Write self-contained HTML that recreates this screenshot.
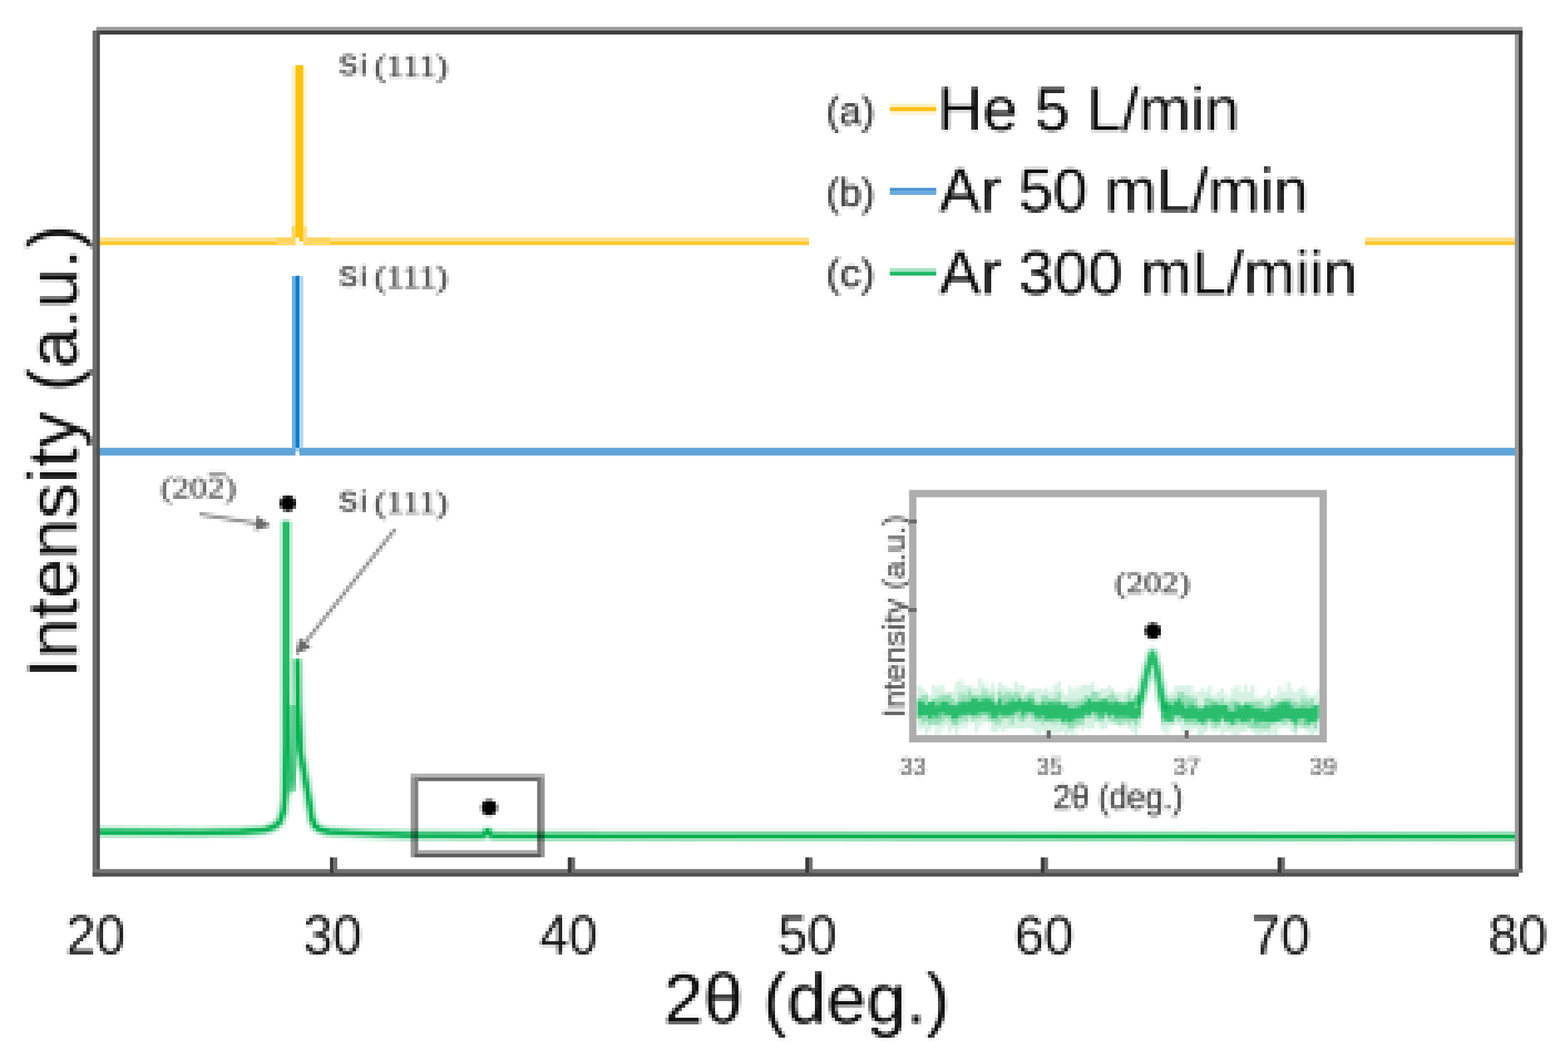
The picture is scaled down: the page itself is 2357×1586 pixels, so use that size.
<!DOCTYPE html>
<html lang="en"><head><meta charset="utf-8"><title>XRD patterns</title>
<style>
html,body{margin:0;padding:0;background:#fff;}
body{width:2357px;height:1586px;overflow:hidden;}
svg{display:block;}
text{white-space:pre;}
</style></head>
<body>
<svg width="2357" height="1586" viewBox="0 0 2357 1586">
<defs>
<filter id="px" x="0" y="0" width="2357" height="1586" filterUnits="userSpaceOnUse" primitiveUnits="userSpaceOnUse" color-interpolation-filters="sRGB">
<feGaussianBlur in="SourceGraphic" stdDeviation="1.5" result="b"/>
<feFlood x="2" y="2" width="1" height="1" flood-color="#000" flood-opacity="1" result="f"/>
<feComposite in="f" in2="f" operator="over" x="0" y="0" width="5" height="5" result="t"/>
<feTile in="t" x="0" y="0" width="2357" height="1586" result="grid"/>
<feComposite in="b" in2="grid" operator="in" result="s"/>
<feMorphology in="s" operator="dilate" radius="2" result="d"/>
<feMerge><feMergeNode in="b"/><feMergeNode in="d"/></feMerge>
</filter>
<filter id="soft" x="0" y="0" width="2357" height="1586" filterUnits="userSpaceOnUse" color-interpolation-filters="sRGB"><feGaussianBlur stdDeviation="0.6"/></filter>
</defs>
<rect width="2357" height="1586" fill="#ffffff"/>
<g id="chart" filter="url(#soft)">
<g id="ink" filter="url(#px)">
<rect width="2357" height="1586" fill="#ffffff"/>
<path d="M141.0,1250.5 L300.0,1251.5 L360.0,1250.5 L397.0,1248.0 L412.0,1243.0 L421.0,1235.0 L426.0,1220.0 L428.5,1198.0 L430.0,1120.0 L430.0,783.0" fill="none" stroke="#00b050" stroke-width="17" stroke-linejoin="bevel" opacity="0.3"/>
<path d="M447.0,991.0 L448.0,1060.0 L451.5,1129.0 L456.0,1155.0 L460.0,1178.0 L463.7,1198.0 L466.5,1216.0 L469.0,1231.0 L473.5,1242.0 L482.0,1247.5 L495.0,1250.5 L560.0,1253.5 L620.0,1255.5 L700.0,1256.0 L725.0,1256.0 L729.5,1254.0 L732.7,1246.5 L736.0,1254.0 L741.0,1256.5 L900.0,1256.8 L1400.0,1257.2 L2284.0,1257.8" fill="none" stroke="#00b050" stroke-width="17" stroke-linejoin="bevel" opacity="0.3"/>
<path d="M430,1060 L447,1060 L447,1125 L441,1192 L430,1192 Z" fill="#00b050" opacity="0.45"/>
<path d="M430.0,783.0 L431.0,1000.0 L434.0,1100.0 L438.0,1170.0 L441.0,1190.0 L444.0,1150.0 L446.5,1060.0 L447.0,991.0" fill="none" stroke="#00b050" stroke-width="4" stroke-linejoin="bevel" opacity="0.7"/>
<path d="M141.0,1250.5 L300.0,1251.5 L360.0,1250.5 L397.0,1248.0 L412.0,1243.0 L421.0,1235.0 L426.0,1220.0 L428.5,1198.0 L430.0,1120.0 L430.0,783.0" fill="none" stroke="#00b050" stroke-width="7.5" stroke-linejoin="bevel"/>
<path d="M447.0,991.0 L448.0,1060.0 L451.5,1129.0 L456.0,1155.0 L460.0,1178.0 L463.7,1198.0 L466.5,1216.0 L469.0,1231.0 L473.5,1242.0 L482.0,1247.5 L495.0,1250.5 L560.0,1253.5 L620.0,1255.5 L700.0,1256.0 L725.0,1256.0 L729.5,1254.0 L732.7,1246.5 L736.0,1254.0 L741.0,1256.5 L900.0,1256.8 L1400.0,1257.2 L2284.0,1257.8" fill="none" stroke="#00b050" stroke-width="7.5" stroke-linejoin="bevel"/>
<circle cx="735.4" cy="1214.2" r="12" fill="#000"/>
<text transform="translate(103.2,1433.8) scale(0.9716,1)" x="-4.15" y="0" font-family='"Liberation Sans", Arial, sans-serif' font-size="82.5" fill="#161616">20</text>
<text transform="translate(459.0,1433.8) scale(0.9602,1)" x="-3.14" y="0" font-family='"Liberation Sans", Arial, sans-serif' font-size="82.5" fill="#161616">30</text>
<text transform="translate(813.0,1433.8) scale(0.9463,1)" x="-1.89" y="0" font-family='"Liberation Sans", Arial, sans-serif' font-size="82.5" fill="#161616">40</text>
<text transform="translate(1172.7,1433.8) scale(0.9620,1)" x="-3.30" y="0" font-family='"Liberation Sans", Arial, sans-serif' font-size="82.5" fill="#161616">50</text>
<text transform="translate(1529.0,1433.8) scale(0.9721,1)" x="-4.19" y="0" font-family='"Liberation Sans", Arial, sans-serif' font-size="82.5" fill="#161616">60</text>
<text transform="translate(1884.5,1433.8) scale(0.9726,1)" x="-4.23" y="0" font-family='"Liberation Sans", Arial, sans-serif' font-size="82.5" fill="#161616">70</text>
<text transform="translate(2241.0,1433.8) scale(0.9652,1)" x="-3.59" y="0" font-family='"Liberation Sans", Arial, sans-serif' font-size="82.5" fill="#161616">80</text>
<text transform="translate(1002.8,1537.5) scale(1.0149,1)" x="-5.33" y="0" font-family='"Liberation Sans", Arial, sans-serif' font-size="106" fill="#0d0d0d">2θ (deg.)</text>
<text transform="translate(115.8,1009.5) rotate(-90) scale(1.0241,1)" x="-9.69" y="0" font-family='"Liberation Sans", Arial, sans-serif' font-size="105" fill="#0d0d0d">Intensity (a.u.)</text>
<text transform="translate(1245.5,186.8) scale(1.0017,1)" x="-3.72" y="0" font-family='"Liberation Sans", Arial, sans-serif' font-size="60" fill="#3c3c3c" stroke="#3c3c3c" stroke-width="0.8" stroke-linejoin="round">(a)</text>
<text transform="translate(1417.5,196.3) scale(1.0082,1)" x="-7.63" y="0" font-family='"Liberation Sans", Arial, sans-serif' font-size="93" fill="#0a0a0a">He 5 L/min</text>
<text transform="translate(1245.5,309.6) scale(1.0017,1)" x="-3.72" y="0" font-family='"Liberation Sans", Arial, sans-serif' font-size="60" fill="#3c3c3c" stroke="#3c3c3c" stroke-width="0.8" stroke-linejoin="round">(b)</text>
<text transform="translate(1412.2,317.9) scale(1.0031,1)" x="-0.18" y="0" font-family='"Liberation Sans", Arial, sans-serif' font-size="93" fill="#0a0a0a">Ar 50 mL/min</text>
<text transform="translate(1245.5,431.4) scale(1.0557,1)" x="-3.72" y="0" font-family='"Liberation Sans", Arial, sans-serif' font-size="60" fill="#3c3c3c" stroke="#3c3c3c" stroke-width="0.8" stroke-linejoin="round">(c)</text>
<text transform="translate(1412.2,441.6) scale(1.0054,1)" x="-0.18" y="0" font-family='"Liberation Sans", Arial, sans-serif' font-size="93" fill="#0a0a0a">Ar 300 mL/miin</text>
<text transform="translate(510.9,112.6) scale(0.9777,1)" x="-2.04" y="0" font-family='"Liberation Sans", Arial, sans-serif' font-size="45" fill="#585858" font-weight="bold" letter-spacing="2.5">Si</text>
<text transform="translate(565.0,114.6) scale(1.1262,1)" x="-2.07" y="0" font-family='"Liberation Serif", "Times New Roman", serif' font-size="47" fill="#555555" stroke="#555555" stroke-width="1.4" stroke-linejoin="round">(111)</text>
<text transform="translate(510.9,431.2) scale(0.9777,1)" x="-2.04" y="0" font-family='"Liberation Sans", Arial, sans-serif' font-size="45" fill="#585858" font-weight="bold" letter-spacing="2.5">Si</text>
<text transform="translate(565.0,431.7) scale(1.1262,1)" x="-2.07" y="0" font-family='"Liberation Serif", "Times New Roman", serif' font-size="47" fill="#555555" stroke="#555555" stroke-width="1.4" stroke-linejoin="round">(111)</text>
<text transform="translate(510.9,769.0) scale(0.9777,1)" x="-2.04" y="0" font-family='"Liberation Sans", Arial, sans-serif' font-size="45" fill="#585858" font-weight="bold" letter-spacing="2.5">Si</text>
<text transform="translate(565.0,770.5) scale(1.1262,1)" x="-2.07" y="0" font-family='"Liberation Serif", "Times New Roman", serif' font-size="47" fill="#555555" stroke="#555555" stroke-width="1.4" stroke-linejoin="round">(111)</text>
<text transform="translate(243.5,747.6) scale(1.1709,1)" x="-1.98" y="0" font-family='"Liberation Serif", "Times New Roman", serif' font-size="45" fill="#666666" stroke="#666666" stroke-width="1.3" stroke-linejoin="round">(202)</text>
<rect x="313.5" y="709.5" width="25.5" height="6.5" fill="#9c9c9c"/>
<defs><marker id="ah" viewBox="0 0 10 10" refX="9" refY="5" markerWidth="4.6" markerHeight="4.6" orient="auto-start-reverse"><path d="M0,0 L10,5 L0,10 z" fill="#6a6a6a"/></marker></defs>
<line x1="300" y1="773" x2="405" y2="790" stroke="#8a8a8a" stroke-width="5" marker-end="url(#ah)"/>
<line x1="594" y1="795.5" x2="446" y2="982" stroke="#8a8a8a" stroke-width="5" marker-end="url(#ah)"/>
<circle cx="432.7" cy="756.8" r="12" fill="#000"/>
<path d="M1377.5,1029.3 L1383.3,1029.3 L1383.3,1033.7 L1389.2,1033.7 L1389.2,1043.2 L1395.0,1043.2 L1395.0,1045.7 L1400.9,1045.7 L1400.9,1029.3 L1406.7,1029.3 L1406.7,1032.7 L1412.6,1032.7 L1412.6,1028.5 L1418.4,1028.5 L1418.4,1038.7 L1424.3,1038.7 L1424.3,1041.5 L1430.1,1041.5 L1430.1,1038.6 L1436.0,1038.6 L1436.0,1026.5 L1441.8,1026.5 L1441.8,1021.9 L1447.7,1021.9 L1447.7,1031.5 L1453.5,1031.5 L1453.5,1029.9 L1459.4,1029.9 L1459.4,1032.7 L1465.2,1032.7 L1465.2,1034.3 L1471.1,1034.3 L1471.1,1018.9 L1476.9,1018.9 L1476.9,1027.5 L1482.8,1027.5 L1482.8,1035.9 L1488.6,1035.9 L1488.6,1027.3 L1494.5,1027.3 L1494.5,1037.7 L1500.3,1037.7 L1500.3,1025.8 L1506.2,1025.8 L1506.2,1031.0 L1512.0,1031.0 L1512.0,1033.6 L1517.9,1033.6 L1517.9,1037.1 L1523.7,1037.1 L1523.7,1024.5 L1529.6,1024.5 L1529.6,1031.4 L1535.4,1031.4 L1535.4,1029.7 L1541.3,1029.7 L1541.3,1040.5 L1547.1,1040.5 L1547.1,1034.6 L1553.0,1034.6 L1553.0,1035.9 L1558.8,1035.9 L1558.8,1034.6 L1564.7,1034.6 L1564.7,1037.5 L1570.5,1037.5 L1570.5,1033.2 L1576.4,1033.2 L1576.4,1039.8 L1582.2,1039.8 L1582.2,1029.8 L1588.1,1029.8 L1588.1,1024.2 L1593.9,1024.2 L1593.9,1037.2 L1599.8,1037.2 L1599.8,1044.6 L1605.6,1044.6 L1605.6,1031.7 L1611.5,1031.7 L1611.5,1037.5 L1617.3,1037.5 L1617.3,1032.6 L1623.2,1032.6 L1623.2,1029.6 L1629.0,1029.6 L1629.0,1029.3 L1634.9,1029.3 L1634.9,1028.4 L1640.7,1028.4 L1640.7,1026.5 L1646.6,1026.5 L1646.6,1039.6 L1652.4,1039.6 L1652.4,1034.4 L1658.3,1034.4 L1658.3,1035.9 L1664.1,1035.9 L1664.1,1031.3 L1670.0,1031.3 L1670.0,1034.0 L1675.8,1034.0 L1675.8,1041.9 L1681.7,1041.9 L1681.7,1040.5 L1687.5,1040.5 L1687.5,1042.6 L1693.4,1042.6 L1693.4,1035.7 L1699.2,1035.7 L1699.2,1033.3 L1705.1,1033.3 L1705.1,1042.9 L1710.9,1042.9 L1710.9,1043.7 L1716.8,1043.7 L1716.8,1094.1 L1710.9,1094.1 L1710.9,1105.0 L1705.1,1105.0 L1705.1,1098.9 L1699.2,1098.9 L1699.2,1094.9 L1693.4,1094.9 L1693.4,1090.8 L1687.5,1090.8 L1687.5,1093.5 L1681.7,1093.5 L1681.7,1088.9 L1675.8,1088.9 L1675.8,1090.9 L1670.0,1090.9 L1670.0,1088.3 L1664.1,1088.3 L1664.1,1095.2 L1658.3,1095.2 L1658.3,1097.5 L1652.4,1097.5 L1652.4,1086.5 L1646.6,1086.5 L1646.6,1094.7 L1640.7,1094.7 L1640.7,1097.2 L1634.9,1097.2 L1634.9,1093.2 L1629.0,1093.2 L1629.0,1098.5 L1623.2,1098.5 L1623.2,1093.7 L1617.3,1093.7 L1617.3,1105.0 L1611.5,1105.0 L1611.5,1101.9 L1605.6,1101.9 L1605.6,1105.0 L1599.8,1105.0 L1599.8,1100.0 L1593.9,1100.0 L1593.9,1103.1 L1588.1,1103.1 L1588.1,1102.2 L1582.2,1102.2 L1582.2,1104.3 L1576.4,1104.3 L1576.4,1105.0 L1570.5,1105.0 L1570.5,1098.7 L1564.7,1098.7 L1564.7,1104.4 L1558.8,1104.4 L1558.8,1102.2 L1553.0,1102.2 L1553.0,1094.3 L1547.1,1094.3 L1547.1,1093.4 L1541.3,1093.4 L1541.3,1095.9 L1535.4,1095.9 L1535.4,1096.5 L1529.6,1096.5 L1529.6,1094.9 L1523.7,1094.9 L1523.7,1094.3 L1517.9,1094.3 L1517.9,1096.1 L1512.0,1096.1 L1512.0,1100.4 L1506.2,1100.4 L1506.2,1096.4 L1500.3,1096.4 L1500.3,1101.5 L1494.5,1101.5 L1494.5,1100.8 L1488.6,1100.8 L1488.6,1085.8 L1482.8,1085.8 L1482.8,1086.7 L1476.9,1086.7 L1476.9,1092.1 L1471.1,1092.1 L1471.1,1101.8 L1465.2,1101.8 L1465.2,1086.9 L1459.4,1086.9 L1459.4,1087.9 L1453.5,1087.9 L1453.5,1096.9 L1447.7,1096.9 L1447.7,1092.5 L1441.8,1092.5 L1441.8,1104.1 L1436.0,1104.1 L1436.0,1095.6 L1430.1,1095.6 L1430.1,1102.1 L1424.3,1102.1 L1424.3,1091.6 L1418.4,1091.6 L1418.4,1097.7 L1412.6,1097.7 L1412.6,1105.0 L1406.7,1105.0 L1406.7,1091.9 L1400.9,1091.9 L1400.9,1098.1 L1395.0,1098.1 L1395.0,1103.0 L1389.2,1103.0 L1389.2,1093.4 L1383.3,1093.4 L1383.3,1098.4 L1377.5,1098.4 Z" fill="#00b050" opacity="0.16"/>
<path d="M1746.0,1042.8 L1751.9,1042.8 L1751.9,1044.7 L1757.7,1044.7 L1757.7,1040.5 L1763.6,1040.5 L1763.6,1031.7 L1769.4,1031.7 L1769.4,1031.0 L1775.3,1031.0 L1775.3,1030.2 L1781.1,1030.2 L1781.1,1031.6 L1787.0,1031.6 L1787.0,1029.4 L1792.8,1029.4 L1792.8,1041.4 L1798.7,1041.4 L1798.7,1040.2 L1804.5,1040.2 L1804.5,1035.1 L1810.4,1035.1 L1810.4,1038.7 L1816.2,1038.7 L1816.2,1031.0 L1822.1,1031.0 L1822.1,1047.0 L1827.9,1047.0 L1827.9,1039.0 L1833.8,1039.0 L1833.8,1034.7 L1839.6,1034.7 L1839.6,1042.6 L1845.5,1042.6 L1845.5,1047.7 L1851.3,1047.7 L1851.3,1034.6 L1857.2,1034.6 L1857.2,1029.4 L1863.0,1029.4 L1863.0,1040.7 L1868.9,1040.7 L1868.9,1028.6 L1874.7,1028.6 L1874.7,1039.4 L1880.6,1039.4 L1880.6,1029.9 L1886.4,1029.9 L1886.4,1047.4 L1892.3,1047.4 L1892.3,1048.3 L1898.1,1048.3 L1898.1,1045.2 L1904.0,1045.2 L1904.0,1037.4 L1909.8,1037.4 L1909.8,1050.3 L1915.7,1050.3 L1915.7,1043.7 L1921.5,1043.7 L1921.5,1031.7 L1927.4,1031.7 L1927.4,1040.1 L1933.2,1040.1 L1933.2,1025.1 L1939.1,1025.1 L1939.1,1036.8 L1944.9,1036.8 L1944.9,1041.0 L1950.8,1041.0 L1950.8,1035.4 L1956.6,1035.4 L1956.6,1032.0 L1962.5,1032.0 L1962.5,1042.2 L1968.3,1042.2 L1968.3,1046.8 L1974.2,1046.8 L1974.2,1042.4 L1980.0,1042.4 L1980.0,1034.8 L1983.5,1034.8 L1983.5,1103.1 L1980.0,1103.1 L1980.0,1101.3 L1974.2,1101.3 L1974.2,1105.0 L1968.3,1105.0 L1968.3,1102.1 L1962.5,1102.1 L1962.5,1095.8 L1956.6,1095.8 L1956.6,1095.8 L1950.8,1095.8 L1950.8,1105.0 L1944.9,1105.0 L1944.9,1100.4 L1939.1,1100.4 L1939.1,1093.4 L1933.2,1093.4 L1933.2,1091.6 L1927.4,1091.6 L1927.4,1095.0 L1921.5,1095.0 L1921.5,1105.0 L1915.7,1105.0 L1915.7,1103.0 L1909.8,1103.0 L1909.8,1105.0 L1904.0,1105.0 L1904.0,1102.5 L1898.1,1102.5 L1898.1,1104.6 L1892.3,1104.6 L1892.3,1104.7 L1886.4,1104.7 L1886.4,1101.3 L1880.6,1101.3 L1880.6,1096.6 L1874.7,1096.6 L1874.7,1100.1 L1868.9,1100.1 L1868.9,1100.6 L1863.0,1100.6 L1863.0,1105.0 L1857.2,1105.0 L1857.2,1103.9 L1851.3,1103.9 L1851.3,1100.7 L1845.5,1100.7 L1845.5,1100.9 L1839.6,1100.9 L1839.6,1105.0 L1833.8,1105.0 L1833.8,1097.3 L1827.9,1097.3 L1827.9,1102.1 L1822.1,1102.1 L1822.1,1092.6 L1816.2,1092.6 L1816.2,1100.3 L1810.4,1100.3 L1810.4,1105.0 L1804.5,1105.0 L1804.5,1105.0 L1798.7,1105.0 L1798.7,1094.8 L1792.8,1094.8 L1792.8,1099.9 L1787.0,1099.9 L1787.0,1098.6 L1781.1,1098.6 L1781.1,1101.2 L1775.3,1101.2 L1775.3,1091.2 L1769.4,1091.2 L1769.4,1089.2 L1763.6,1089.2 L1763.6,1092.2 L1757.7,1092.2 L1757.7,1104.3 L1751.9,1104.3 L1751.9,1098.8 L1746.0,1098.8 Z" fill="#00b050" opacity="0.16"/>
<path d="M1377.5,1049.7 L1383.3,1049.7 L1383.3,1046.3 L1389.2,1046.3 L1389.2,1042.6 L1395.0,1042.6 L1395.0,1055.2 L1400.9,1055.2 L1400.9,1049.9 L1406.7,1049.9 L1406.7,1047.9 L1412.6,1047.9 L1412.6,1044.3 L1418.4,1044.3 L1418.4,1045.2 L1424.3,1045.2 L1424.3,1043.3 L1430.1,1043.3 L1430.1,1049.9 L1436.0,1049.9 L1436.0,1054.7 L1441.8,1054.7 L1441.8,1042.1 L1447.7,1042.1 L1447.7,1046.8 L1453.5,1046.8 L1453.5,1037.5 L1459.4,1037.5 L1459.4,1044.1 L1465.2,1044.1 L1465.2,1044.9 L1471.1,1044.9 L1471.1,1045.3 L1476.9,1045.3 L1476.9,1036.8 L1482.8,1036.8 L1482.8,1043.9 L1488.6,1043.9 L1488.6,1042.4 L1494.5,1042.4 L1494.5,1053.6 L1500.3,1053.6 L1500.3,1038.6 L1506.2,1038.6 L1506.2,1044.9 L1512.0,1044.9 L1512.0,1039.8 L1517.9,1039.8 L1517.9,1043.9 L1523.7,1043.9 L1523.7,1040.4 L1529.6,1040.4 L1529.6,1042.8 L1535.4,1042.8 L1535.4,1049.9 L1541.3,1049.9 L1541.3,1044.7 L1547.1,1044.7 L1547.1,1041.1 L1553.0,1041.1 L1553.0,1052.8 L1558.8,1052.8 L1558.8,1055.7 L1564.7,1055.7 L1564.7,1046.6 L1570.5,1046.6 L1570.5,1046.5 L1576.4,1046.5 L1576.4,1050.6 L1582.2,1050.6 L1582.2,1049.0 L1588.1,1049.0 L1588.1,1041.5 L1593.9,1041.5 L1593.9,1055.9 L1599.8,1055.9 L1599.8,1055.1 L1605.6,1055.1 L1605.6,1053.3 L1611.5,1053.3 L1611.5,1053.7 L1617.3,1053.7 L1617.3,1053.0 L1623.2,1053.0 L1623.2,1051.2 L1629.0,1051.2 L1629.0,1045.4 L1634.9,1045.4 L1634.9,1047.0 L1640.7,1047.0 L1640.7,1039.4 L1646.6,1039.4 L1646.6,1040.6 L1652.4,1040.6 L1652.4,1051.2 L1658.3,1051.2 L1658.3,1048.2 L1664.1,1048.2 L1664.1,1045.8 L1670.0,1045.8 L1670.0,1042.0 L1675.8,1042.0 L1675.8,1048.1 L1681.7,1048.1 L1681.7,1055.5 L1687.5,1055.5 L1687.5,1054.9 L1693.4,1054.9 L1693.4,1042.6 L1699.2,1042.6 L1699.2,1051.8 L1705.1,1051.8 L1705.1,1044.9 L1710.9,1044.9 L1710.9,1042.9 L1716.8,1042.9 L1716.8,1081.4 L1710.9,1081.4 L1710.9,1090.5 L1705.1,1090.5 L1705.1,1082.9 L1699.2,1082.9 L1699.2,1088.0 L1693.4,1088.0 L1693.4,1084.3 L1687.5,1084.3 L1687.5,1090.3 L1681.7,1090.3 L1681.7,1087.2 L1675.8,1087.2 L1675.8,1084.5 L1670.0,1084.5 L1670.0,1082.6 L1664.1,1082.6 L1664.1,1077.8 L1658.3,1077.8 L1658.3,1086.1 L1652.4,1086.1 L1652.4,1082.9 L1646.6,1082.9 L1646.6,1077.3 L1640.7,1077.3 L1640.7,1080.8 L1634.9,1080.8 L1634.9,1080.2 L1629.0,1080.2 L1629.0,1088.9 L1623.2,1088.9 L1623.2,1088.9 L1617.3,1088.9 L1617.3,1093.8 L1611.5,1093.8 L1611.5,1095.7 L1605.6,1095.7 L1605.6,1090.5 L1599.8,1090.5 L1599.8,1090.8 L1593.9,1090.8 L1593.9,1083.7 L1588.1,1083.7 L1588.1,1088.3 L1582.2,1088.3 L1582.2,1086.2 L1576.4,1086.2 L1576.4,1085.6 L1570.5,1085.6 L1570.5,1088.1 L1564.7,1088.1 L1564.7,1084.5 L1558.8,1084.5 L1558.8,1085.1 L1553.0,1085.1 L1553.0,1076.3 L1547.1,1076.3 L1547.1,1078.6 L1541.3,1078.6 L1541.3,1085.0 L1535.4,1085.0 L1535.4,1082.6 L1529.6,1082.6 L1529.6,1077.5 L1523.7,1077.5 L1523.7,1088.4 L1517.9,1088.4 L1517.9,1079.3 L1512.0,1079.3 L1512.0,1081.1 L1506.2,1081.1 L1506.2,1087.5 L1500.3,1087.5 L1500.3,1088.3 L1494.5,1088.3 L1494.5,1085.8 L1488.6,1085.8 L1488.6,1082.1 L1482.8,1082.1 L1482.8,1074.5 L1476.9,1074.5 L1476.9,1080.2 L1471.1,1080.2 L1471.1,1081.4 L1465.2,1081.4 L1465.2,1082.5 L1459.4,1082.5 L1459.4,1077.2 L1453.5,1077.2 L1453.5,1085.3 L1447.7,1085.3 L1447.7,1082.0 L1441.8,1082.0 L1441.8,1091.0 L1436.0,1091.0 L1436.0,1088.9 L1430.1,1088.9 L1430.1,1082.8 L1424.3,1082.8 L1424.3,1081.0 L1418.4,1081.0 L1418.4,1086.3 L1412.6,1086.3 L1412.6,1089.9 L1406.7,1089.9 L1406.7,1088.0 L1400.9,1088.0 L1400.9,1090.3 L1395.0,1090.3 L1395.0,1085.9 L1389.2,1085.9 L1389.2,1088.1 L1383.3,1088.1 L1383.3,1079.9 L1377.5,1079.9 Z" fill="#00b050" opacity="0.3"/>
<path d="M1746.0,1049.9 L1751.9,1049.9 L1751.9,1053.2 L1757.7,1053.2 L1757.7,1049.6 L1763.6,1049.6 L1763.6,1048.3 L1769.4,1048.3 L1769.4,1041.0 L1775.3,1041.0 L1775.3,1041.2 L1781.1,1041.2 L1781.1,1046.8 L1787.0,1046.8 L1787.0,1047.6 L1792.8,1047.6 L1792.8,1049.0 L1798.7,1049.0 L1798.7,1060.0 L1804.5,1060.0 L1804.5,1060.9 L1810.4,1060.9 L1810.4,1049.2 L1816.2,1049.2 L1816.2,1048.8 L1822.1,1048.8 L1822.1,1052.5 L1827.9,1052.5 L1827.9,1052.9 L1833.8,1052.9 L1833.8,1050.7 L1839.6,1050.7 L1839.6,1057.3 L1845.5,1057.3 L1845.5,1056.7 L1851.3,1056.7 L1851.3,1052.5 L1857.2,1052.5 L1857.2,1054.5 L1863.0,1054.5 L1863.0,1059.7 L1868.9,1059.7 L1868.9,1054.4 L1874.7,1054.4 L1874.7,1056.3 L1880.6,1056.3 L1880.6,1054.1 L1886.4,1054.1 L1886.4,1053.9 L1892.3,1053.9 L1892.3,1054.1 L1898.1,1054.1 L1898.1,1061.6 L1904.0,1061.6 L1904.0,1058.5 L1909.8,1058.5 L1909.8,1050.8 L1915.7,1050.8 L1915.7,1055.8 L1921.5,1055.8 L1921.5,1053.5 L1927.4,1053.5 L1927.4,1049.6 L1933.2,1049.6 L1933.2,1049.5 L1939.1,1049.5 L1939.1,1052.3 L1944.9,1052.3 L1944.9,1054.1 L1950.8,1054.1 L1950.8,1057.3 L1956.6,1057.3 L1956.6,1048.1 L1962.5,1048.1 L1962.5,1054.1 L1968.3,1054.1 L1968.3,1050.0 L1974.2,1050.0 L1974.2,1059.9 L1980.0,1059.9 L1980.0,1053.8 L1983.5,1053.8 L1983.5,1086.4 L1980.0,1086.4 L1980.0,1095.6 L1974.2,1095.6 L1974.2,1089.1 L1968.3,1089.1 L1968.3,1093.4 L1962.5,1093.4 L1962.5,1092.7 L1956.6,1092.7 L1956.6,1088.9 L1950.8,1088.9 L1950.8,1097.3 L1944.9,1097.3 L1944.9,1088.0 L1939.1,1088.0 L1939.1,1084.3 L1933.2,1084.3 L1933.2,1091.3 L1927.4,1091.3 L1927.4,1084.4 L1921.5,1084.4 L1921.5,1085.7 L1915.7,1085.7 L1915.7,1088.5 L1909.8,1088.5 L1909.8,1095.9 L1904.0,1095.9 L1904.0,1096.9 L1898.1,1096.9 L1898.1,1096.4 L1892.3,1096.4 L1892.3,1096.1 L1886.4,1096.1 L1886.4,1095.1 L1880.6,1095.1 L1880.6,1093.1 L1874.7,1093.1 L1874.7,1089.3 L1868.9,1089.3 L1868.9,1091.7 L1863.0,1091.7 L1863.0,1087.6 L1857.2,1087.6 L1857.2,1091.8 L1851.3,1091.8 L1851.3,1092.3 L1845.5,1092.3 L1845.5,1088.0 L1839.6,1088.0 L1839.6,1084.6 L1833.8,1084.6 L1833.8,1091.8 L1827.9,1091.8 L1827.9,1094.2 L1822.1,1094.2 L1822.1,1085.2 L1816.2,1085.2 L1816.2,1091.9 L1810.4,1091.9 L1810.4,1091.0 L1804.5,1091.0 L1804.5,1088.8 L1798.7,1088.8 L1798.7,1089.0 L1792.8,1089.0 L1792.8,1087.6 L1787.0,1087.6 L1787.0,1089.4 L1781.1,1089.4 L1781.1,1082.4 L1775.3,1082.4 L1775.3,1084.6 L1769.4,1084.6 L1769.4,1081.6 L1763.6,1081.6 L1763.6,1087.7 L1757.7,1087.7 L1757.7,1086.6 L1751.9,1086.6 L1751.9,1088.2 L1746.0,1088.2 Z" fill="#00b050" opacity="0.3"/>
<path d="M1377.5,1052.8 L1383.3,1052.8 L1383.3,1054.7 L1389.2,1054.7 L1389.2,1059.5 L1395.0,1059.5 L1395.0,1055.2 L1400.9,1055.2 L1400.9,1054.6 L1406.7,1054.6 L1406.7,1061.4 L1412.6,1061.4 L1412.6,1053.9 L1418.4,1053.9 L1418.4,1054.8 L1424.3,1054.8 L1424.3,1058.1 L1430.1,1058.1 L1430.1,1060.2 L1436.0,1060.2 L1436.0,1061.0 L1441.8,1061.0 L1441.8,1054.2 L1447.7,1054.2 L1447.7,1056.6 L1453.5,1056.6 L1453.5,1054.6 L1459.4,1054.6 L1459.4,1049.4 L1465.2,1049.4 L1465.2,1051.0 L1471.1,1051.0 L1471.1,1054.0 L1476.9,1054.0 L1476.9,1049.6 L1482.8,1049.6 L1482.8,1050.7 L1488.6,1050.7 L1488.6,1053.1 L1494.5,1053.1 L1494.5,1058.5 L1500.3,1058.5 L1500.3,1050.7 L1506.2,1050.7 L1506.2,1059.4 L1512.0,1059.4 L1512.0,1056.2 L1517.9,1056.2 L1517.9,1052.1 L1523.7,1052.1 L1523.7,1054.9 L1529.6,1054.9 L1529.6,1051.3 L1535.4,1051.3 L1535.4,1055.3 L1541.3,1055.3 L1541.3,1054.7 L1547.1,1054.7 L1547.1,1050.0 L1553.0,1050.0 L1553.0,1059.5 L1558.8,1059.5 L1558.8,1060.6 L1564.7,1060.6 L1564.7,1057.1 L1570.5,1057.1 L1570.5,1058.0 L1576.4,1058.0 L1576.4,1055.6 L1582.2,1055.6 L1582.2,1057.2 L1588.1,1057.2 L1588.1,1056.2 L1593.9,1056.2 L1593.9,1058.4 L1599.8,1058.4 L1599.8,1058.1 L1605.6,1058.1 L1605.6,1064.3 L1611.5,1064.3 L1611.5,1064.3 L1617.3,1064.3 L1617.3,1062.7 L1623.2,1062.7 L1623.2,1059.2 L1629.0,1059.2 L1629.0,1056.3 L1634.9,1056.3 L1634.9,1050.7 L1640.7,1050.7 L1640.7,1055.0 L1646.6,1055.0 L1646.6,1055.1 L1652.4,1055.1 L1652.4,1052.3 L1658.3,1052.3 L1658.3,1051.4 L1664.1,1051.4 L1664.1,1056.5 L1670.0,1056.5 L1670.0,1056.8 L1675.8,1056.8 L1675.8,1054.3 L1681.7,1054.3 L1681.7,1057.0 L1687.5,1057.0 L1687.5,1058.3 L1693.4,1058.3 L1693.4,1055.3 L1699.2,1055.3 L1699.2,1054.0 L1705.1,1054.0 L1705.1,1062.7 L1710.9,1062.7 L1710.9,1052.4 L1716.8,1052.4 L1716.8,1077.3 L1710.9,1077.3 L1710.9,1080.3 L1705.1,1080.3 L1705.1,1081.3 L1699.2,1081.3 L1699.2,1078.5 L1693.4,1078.5 L1693.4,1078.2 L1687.5,1078.2 L1687.5,1078.0 L1681.7,1078.0 L1681.7,1079.0 L1675.8,1079.0 L1675.8,1074.1 L1670.0,1074.1 L1670.0,1076.9 L1664.1,1076.9 L1664.1,1072.3 L1658.3,1072.3 L1658.3,1080.0 L1652.4,1080.0 L1652.4,1073.1 L1646.6,1073.1 L1646.6,1070.1 L1640.7,1070.1 L1640.7,1075.1 L1634.9,1075.1 L1634.9,1073.5 L1629.0,1073.5 L1629.0,1080.2 L1623.2,1080.2 L1623.2,1078.9 L1617.3,1078.9 L1617.3,1082.8 L1611.5,1082.8 L1611.5,1086.3 L1605.6,1086.3 L1605.6,1083.1 L1599.8,1083.1 L1599.8,1084.4 L1593.9,1084.4 L1593.9,1079.7 L1588.1,1079.7 L1588.1,1081.6 L1582.2,1081.6 L1582.2,1081.6 L1576.4,1081.6 L1576.4,1082.2 L1570.5,1082.2 L1570.5,1077.1 L1564.7,1077.1 L1564.7,1078.8 L1558.8,1078.8 L1558.8,1077.6 L1553.0,1077.6 L1553.0,1070.5 L1547.1,1070.5 L1547.1,1071.7 L1541.3,1071.7 L1541.3,1077.0 L1535.4,1077.0 L1535.4,1068.4 L1529.6,1068.4 L1529.6,1071.0 L1523.7,1071.0 L1523.7,1075.3 L1517.9,1075.3 L1517.9,1076.5 L1512.0,1076.5 L1512.0,1076.9 L1506.2,1076.9 L1506.2,1073.4 L1500.3,1073.4 L1500.3,1078.4 L1494.5,1078.4 L1494.5,1079.5 L1488.6,1079.5 L1488.6,1072.4 L1482.8,1072.4 L1482.8,1071.8 L1476.9,1071.8 L1476.9,1072.2 L1471.1,1072.2 L1471.1,1073.9 L1465.2,1073.9 L1465.2,1075.3 L1459.4,1075.3 L1459.4,1073.6 L1453.5,1073.6 L1453.5,1073.9 L1447.7,1073.9 L1447.7,1075.5 L1441.8,1075.5 L1441.8,1080.4 L1436.0,1080.4 L1436.0,1081.4 L1430.1,1081.4 L1430.1,1075.4 L1424.3,1075.4 L1424.3,1074.0 L1418.4,1074.0 L1418.4,1072.0 L1412.6,1072.0 L1412.6,1078.3 L1406.7,1078.3 L1406.7,1077.0 L1400.9,1077.0 L1400.9,1080.2 L1395.0,1080.2 L1395.0,1075.3 L1389.2,1075.3 L1389.2,1075.7 L1383.3,1075.7 L1383.3,1078.2 L1377.5,1078.2 Z" fill="#00b050" opacity="0.72"/>
<path d="M1746.0,1060.9 L1751.9,1060.9 L1751.9,1056.9 L1757.7,1056.9 L1757.7,1059.7 L1763.6,1059.7 L1763.6,1055.2 L1769.4,1055.2 L1769.4,1051.4 L1775.3,1051.4 L1775.3,1057.4 L1781.1,1057.4 L1781.1,1063.8 L1787.0,1063.8 L1787.0,1057.8 L1792.8,1057.8 L1792.8,1061.7 L1798.7,1061.7 L1798.7,1065.9 L1804.5,1065.9 L1804.5,1065.8 L1810.4,1065.8 L1810.4,1060.8 L1816.2,1060.8 L1816.2,1062.1 L1822.1,1062.1 L1822.1,1057.3 L1827.9,1057.3 L1827.9,1060.5 L1833.8,1060.5 L1833.8,1060.1 L1839.6,1060.1 L1839.6,1059.5 L1845.5,1059.5 L1845.5,1067.9 L1851.3,1067.9 L1851.3,1069.2 L1857.2,1069.2 L1857.2,1057.4 L1863.0,1057.4 L1863.0,1062.2 L1868.9,1062.2 L1868.9,1058.8 L1874.7,1058.8 L1874.7,1058.7 L1880.6,1058.7 L1880.6,1062.5 L1886.4,1062.5 L1886.4,1065.1 L1892.3,1065.1 L1892.3,1065.3 L1898.1,1065.3 L1898.1,1067.5 L1904.0,1067.5 L1904.0,1066.5 L1909.8,1066.5 L1909.8,1062.8 L1915.7,1062.8 L1915.7,1062.0 L1921.5,1062.0 L1921.5,1056.8 L1927.4,1056.8 L1927.4,1055.9 L1933.2,1055.9 L1933.2,1056.6 L1939.1,1056.6 L1939.1,1062.1 L1944.9,1062.1 L1944.9,1064.5 L1950.8,1064.5 L1950.8,1064.0 L1956.6,1064.0 L1956.6,1062.5 L1962.5,1062.5 L1962.5,1064.2 L1968.3,1064.2 L1968.3,1063.0 L1974.2,1063.0 L1974.2,1060.2 L1980.0,1060.2 L1980.0,1060.0 L1983.5,1060.0 L1983.5,1080.7 L1980.0,1080.7 L1980.0,1084.0 L1974.2,1084.0 L1974.2,1085.3 L1968.3,1085.3 L1968.3,1088.4 L1962.5,1088.4 L1962.5,1080.1 L1956.6,1080.1 L1956.6,1081.3 L1950.8,1081.3 L1950.8,1087.9 L1944.9,1087.9 L1944.9,1083.4 L1939.1,1083.4 L1939.1,1080.7 L1933.2,1080.7 L1933.2,1080.4 L1927.4,1080.4 L1927.4,1083.9 L1921.5,1083.9 L1921.5,1086.2 L1915.7,1086.2 L1915.7,1085.8 L1909.8,1085.8 L1909.8,1086.1 L1904.0,1086.1 L1904.0,1084.8 L1898.1,1084.8 L1898.1,1083.9 L1892.3,1083.9 L1892.3,1087.6 L1886.4,1087.6 L1886.4,1080.2 L1880.6,1080.2 L1880.6,1083.5 L1874.7,1083.5 L1874.7,1084.5 L1868.9,1084.5 L1868.9,1085.3 L1863.0,1085.3 L1863.0,1080.4 L1857.2,1080.4 L1857.2,1089.3 L1851.3,1089.3 L1851.3,1083.9 L1845.5,1083.9 L1845.5,1083.9 L1839.6,1083.9 L1839.6,1078.8 L1833.8,1078.8 L1833.8,1085.9 L1827.9,1085.9 L1827.9,1085.2 L1822.1,1085.2 L1822.1,1081.1 L1816.2,1081.1 L1816.2,1083.0 L1810.4,1083.0 L1810.4,1087.2 L1804.5,1087.2 L1804.5,1084.0 L1798.7,1084.0 L1798.7,1080.8 L1792.8,1080.8 L1792.8,1082.0 L1787.0,1082.0 L1787.0,1082.4 L1781.1,1082.4 L1781.1,1078.8 L1775.3,1078.8 L1775.3,1075.3 L1769.4,1075.3 L1769.4,1075.2 L1763.6,1075.2 L1763.6,1084.9 L1757.7,1084.9 L1757.7,1083.7 L1751.9,1083.7 L1751.9,1081.9 L1746.0,1081.9 Z" fill="#00b050" opacity="0.72"/>
<path d="M1711.0,1060.0 L1716.0,1046.0 L1721.0,1024.0 L1727.0,1000.0 L1732.3,982.0 L1737.5,1000.0 L1742.5,1026.0 L1747.0,1052.0 L1751.0,1068.0" fill="none" stroke="#00b050" stroke-width="19" stroke-linejoin="round" opacity="0.25"/>
<path d="M1711.0,1060.0 L1716.0,1046.0 L1721.0,1024.0 L1727.0,1000.0 L1732.3,982.0 L1737.5,1000.0 L1742.5,1026.0 L1747.0,1052.0 L1751.0,1068.0" fill="none" stroke="#00b050" stroke-width="9" stroke-linejoin="round" opacity="0.8"/>
<text transform="translate(1353.3,1164.7) scale(0.9629,1)" x="-1.43" y="0" font-family='"Liberation Sans", Arial, sans-serif' font-size="37.5" fill="#6e6e6e" stroke="#6e6e6e" stroke-width="0.6" stroke-linejoin="round">33</text>
<text transform="translate(1558.8,1164.7) scale(0.9610,1)" x="-1.43" y="0" font-family='"Liberation Sans", Arial, sans-serif' font-size="37.5" fill="#6e6e6e" stroke="#6e6e6e" stroke-width="0.6" stroke-linejoin="round">35</text>
<text transform="translate(1765.2,1164.7) scale(0.9688,1)" x="-1.43" y="0" font-family='"Liberation Sans", Arial, sans-serif' font-size="37.5" fill="#6e6e6e" stroke="#6e6e6e" stroke-width="0.6" stroke-linejoin="round">37</text>
<text transform="translate(1970.1,1164.7) scale(0.9661,1)" x="-1.43" y="0" font-family='"Liberation Sans", Arial, sans-serif' font-size="37.5" fill="#6e6e6e" stroke="#6e6e6e" stroke-width="0.6" stroke-linejoin="round">39</text>
<text transform="translate(1585.5,1216.2) scale(0.9577,1)" x="-2.56" y="0" font-family='"Liberation Sans", Arial, sans-serif' font-size="51" fill="#454545" stroke="#454545" stroke-width="0.7" stroke-linejoin="round">2θ (deg.)</text>
<text transform="translate(1360.0,1074.0) rotate(-90) scale(1.0222,1)" x="-4.34" y="0" font-family='"Liberation Sans", Arial, sans-serif' font-size="47" fill="#555555" stroke="#555555" stroke-width="0.7" stroke-linejoin="round">Intensity (a.u.)</text>
<text transform="translate(1678.0,891.0) scale(1.1656,1)" x="-1.98" y="0" font-family='"Liberation Serif", "Times New Roman", serif' font-size="45" fill="#5e5e5e" stroke="#5e5e5e" stroke-width="1.3" stroke-linejoin="round">(202)</text>
<circle cx="1733.2" cy="948.6" r="12" fill="#000"/>
</g>
<g id="lines">
<rect x="139.5" y="357.0" width="1076.5" height="6.0" fill="#ffe08a"/>
<rect x="139.5" y="363.0" width="1076.5" height="5.5" fill="#ffc82e"/>
<rect x="2052.0" y="357.0" width="236.0" height="6.0" fill="#ffe08a"/>
<rect x="2052.0" y="363.0" width="236.0" height="5.5" fill="#ffc82e"/>
<rect x="416.0" y="357.0" width="80.0" height="6.0" fill="#ffd65c"/>
<rect x="416.0" y="363.0" width="80.0" height="5.5" fill="#ffd966"/>
<rect x="438.5" y="100.0" width="5.7" height="257.0" fill="#fff1cc"/>
<rect x="455.9" y="100.0" width="5.6" height="257.0" fill="#fff6e0"/>
<rect x="444.2" y="98.0" width="11.7" height="265.0" fill="#ffc20a"/>
<rect x="438.5" y="340.0" width="5.7" height="23.0" fill="#ffd966"/>
<rect x="455.9" y="340.0" width="5.6" height="23.0" fill="#ffe08a"/>
<rect x="444.2" y="357.0" width="5.8" height="11.5" fill="#fff6e0"/>
<rect x="450.0" y="363.0" width="6.0" height="5.5" fill="#fffaf0"/>
<rect x="139.5" y="673.2" width="2149.0" height="11.6" fill="#5fa5d8"/>
<rect x="438.8" y="415.0" width="5.4" height="258.2" fill="#6aaddd"/>
<rect x="444.2" y="414.5" width="5.8" height="258.7" fill="#0a7cd0"/>
<rect x="450.0" y="415.0" width="5.9" height="258.2" fill="#b4d6ef"/>
<rect x="444.2" y="673.2" width="5.8" height="5.8" fill="#a5cdec"/>
<rect x="444.2" y="679.0" width="5.8" height="5.8" fill="#ffffff"/>
<g style="mix-blend-mode:multiply">
<rect x="617.3" y="1162.9" width="201.5" height="5.7" fill="#b2b2b2"/>
<rect x="623.1" y="1168.6" width="189.9" height="5.7" fill="#686868"/>
<rect x="617.3" y="1168.6" width="5.8" height="120.2" fill="#9a9a9a"/>
<rect x="623.1" y="1168.6" width="5.6" height="114.7" fill="#808080"/>
<rect x="807.4" y="1168.6" width="5.6" height="114.7" fill="#777777"/>
<rect x="813.0" y="1168.6" width="5.8" height="120.2" fill="#949494"/>
<rect x="628.7" y="1278.0" width="178.7" height="5.3" fill="#ababab"/>
<rect x="623.1" y="1283.3" width="189.9" height="5.5" fill="#5a5a5a"/>
</g>
<rect x="144.8" y="40.4" width="2143.8" height="5.5" fill="#9a9a9a"/>
<rect x="144.8" y="45.9" width="2143.8" height="6.0" fill="#404040"/>
<rect x="139.2" y="45.9" width="5.6" height="1271.9" fill="#6b6b6b"/>
<rect x="144.8" y="45.9" width="5.4" height="1271.9" fill="#525252"/>
<rect x="2277.1" y="51.9" width="5.9" height="1260.0" fill="#9a9a9a"/>
<rect x="2283.0" y="45.9" width="5.6" height="1266.0" fill="#3d3d3d"/>
<rect x="139.2" y="1306.5" width="2149.4" height="5.4" fill="#737373"/>
<rect x="139.2" y="1311.9" width="2143.8" height="5.9" fill="#525252"/>
<rect x="496.0" y="1289.0" width="5.5" height="22.9" fill="#3a3a3a"/>
<rect x="501.5" y="1289.0" width="5.5" height="22.9" fill="#707070"/>
<rect x="853.5" y="1289.0" width="5.5" height="22.9" fill="#3a3a3a"/>
<rect x="859.0" y="1289.0" width="5.5" height="22.9" fill="#707070"/>
<rect x="1210.5" y="1289.0" width="5.5" height="22.9" fill="#3a3a3a"/>
<rect x="1216.0" y="1289.0" width="5.5" height="22.9" fill="#707070"/>
<rect x="1564.5" y="1289.0" width="5.5" height="22.9" fill="#3a3a3a"/>
<rect x="1570.0" y="1289.0" width="5.5" height="22.9" fill="#707070"/>
<rect x="1920.5" y="1289.0" width="5.5" height="22.9" fill="#3a3a3a"/>
<rect x="1926.0" y="1289.0" width="5.5" height="22.9" fill="#707070"/>
<rect x="1337.6" y="155.6" width="69.8" height="5.4" fill="#fff0c2"/>
<rect x="1337.6" y="161.0" width="69.8" height="6.4" fill="#ffc21a"/>
<rect x="1337.6" y="167.4" width="69.8" height="5.4" fill="#fff3d1"/>
<rect x="1337.6" y="282.4" width="69.8" height="5.3" fill="#4a96d2"/>
<rect x="1337.6" y="287.7" width="69.8" height="5.3" fill="#6aabdd"/>
<rect x="1337.6" y="403.0" width="69.8" height="5.5" fill="#a8e2c4"/>
<rect x="1337.6" y="408.5" width="69.8" height="5.8" fill="#1fb866"/>
<rect x="1372" y="742" width="617" height="368.5999999999999" fill="none" stroke="#adadad" stroke-width="11"/>
<rect x="1573.5" y="1098.0" width="6.0" height="12.0" fill="#6a6a6a"/>
<rect x="1780.8" y="1098.0" width="6.0" height="12.0" fill="#6a6a6a"/>
<rect x="1366.5" y="781.0" width="11.5" height="6.0" fill="#6a6a6a"/>
<rect x="1366.5" y="914.0" width="11.5" height="6.0" fill="#6a6a6a"/>
</g>
</g>
</svg>
</body></html>
